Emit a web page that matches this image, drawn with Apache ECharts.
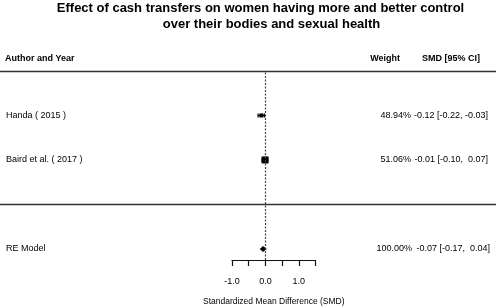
<!DOCTYPE html>
<html>
<head>
<meta charset="utf-8">
<script src="https://cdn.jsdelivr.net/npm/echarts@6/dist/echarts.min.js"></script>
<style>html,body{margin:0;padding:0;background:#fff}#c{width:500px;height:307px}</style>
</head>
<body>
<div id="c"></div>
<script>
// ---- data ----
const studies = ['Handa ( 2015 )', 'Baird et al. ( 2017 )'];
const weights = [48.94, 51.06];
const smd = [-0.12, -0.01];
const ciLow = [-0.22, -0.10];
const ciHigh = [-0.03, 0.07];
const pooledLabel = 'RE Model';
const pooledWeight = [100.00];
const pooledSmd = [-0.07];
const pooledLow = [-0.17];
const pooledHigh = [0.04];
const xTickValues = [-1.0, -0.5, 0.0, 0.5, 1.0, 1.5];
const xTickLabels = ['-1.0', '', '0.0', '', '1.0', ''];
const titleLines = ['Effect of cash transfers on women having more and better control', 'over their bodies and sexual health'];
const headers = ['Author and Year', 'Weight', 'SMD [95% CI]'];
const axisTitle = 'Standardized Mean Difference (SMD)';

// ---- layout / style ----
const FONT = "'Liberation Sans', Arial, sans-serif";
const studyRows = [4, 3];
const pooledRow = 1;
const ruleRows = [5, 2];
const headerRow = 5.27;
const markerPx = [4, 7];

function fmt(v) { const s = v.toFixed(2); return v >= 0 ? ' ' + s : s; }
function ciText(e, l, u) { return e.toFixed(2) + ' [' + l.toFixed(2) + ', ' + fmt(u) + ']'; }

// text items for the full-width grid: [x, y, text, align, bold]
const texts = [];
texts.push([5, headerRow, headers[0], 'left', true]);
texts.push([400, headerRow, headers[1], 'right', true]);
texts.push([480, headerRow, headers[2], 'right', true]);
studies.forEach((s, i) => {
  texts.push([6, studyRows[i], s, 'left', false]);
  texts.push([411, studyRows[i], weights[i].toFixed(2) + '%', 'right', false]);
  texts.push([488, studyRows[i], ciText(smd[i], ciLow[i], ciHigh[i]), 'right', false]);
});
texts.push([6, pooledRow, pooledLabel, 'left', false]);
texts.push([412, pooledRow, pooledWeight[0].toFixed(2) + '%', 'right', false]);
texts.push([490, pooledRow, ciText(pooledSmd[0], pooledLow[0], pooledHigh[0]), 'right', false]);

const chart = echarts.init(document.getElementById('c'));
chart.setOption({
  animation: false,
  backgroundColor: '#fff',
  title: [
    { text: titleLines[0], left: 255.5, top: -3, textAlign: 'center',
      textStyle: { fontFamily: FONT, fontSize: 13, fontWeight: 'bold', color: '#000' } },
    { text: titleLines[1], left: 266.5, top: 13, textAlign: 'center',
      textStyle: { fontFamily: FONT, fontSize: 13, fontWeight: 'bold', color: '#000' } }
  ],
  grid: [
    { left: 232, right: 184.5, top: 71, bottom: 47, containLabel: false, outerBoundsMode: 'none' },
    { left: 0, right: 0, top: 71, bottom: 47, containLabel: false, outerBoundsMode: 'none' }
  ],
  xAxis: [
    { gridIndex: 0, type: 'value', min: xTickValues[0], max: xTickValues[xTickValues.length - 1], interval: 0.5,
      splitLine: { show: false },
      axisLine: { show: true, onZero: false, lineStyle: { color: '#111', width: 1.2 } },
      axisTick: { show: true, length: 6, lineStyle: { color: '#111', width: 1.2 } },
      axisLabel: { margin: 17, fontFamily: FONT, fontSize: 9, color: '#000',
        formatter: v => { const i = xTickValues.findIndex(t => Math.abs(t - v) < 1e-9); return i >= 0 ? xTickLabels[i] : ''; } },
      name: axisTitle, nameLocation: 'middle', nameGap: 37,
      nameTextStyle: { fontFamily: FONT, fontSize: 8.5, color: '#000' } },
    { gridIndex: 1, type: 'value', min: 0, max: 500, show: false }
  ],
  yAxis: [
    { gridIndex: 0, type: 'value', min: 0.75, max: 5, show: false },
    { gridIndex: 1, type: 'value', min: 0.75, max: 5, show: false }
  ],
  series: [
    // horizontal rules
    { type: 'custom', xAxisIndex: 1, yAxisIndex: 1, silent: true,
      data: ruleRows.map(r => [r]),
      renderItem: (params, api) => {
        const a = api.coord([0, api.value(0)]);
        const b = api.coord([496, api.value(0)]);
        return { type: 'line', shape: { x1: a[0], y1: Math.round(a[1]) + 0.5, x2: b[0], y2: Math.round(a[1]) + 0.5 },
          style: { stroke: '#333', lineWidth: 1.3 } };
      } },
    // text columns
    { type: 'custom', xAxisIndex: 1, yAxisIndex: 1, silent: true,
      data: texts.map(t => [t[0], t[1]]),
      renderItem: (params, api) => {
        const t = texts[params.dataIndex];
        const p = api.coord([api.value(0), api.value(1)]);
        return { type: 'text', x: p[0], y: p[1],
          style: { text: t[2], textAlign: t[3], textVerticalAlign: 'middle', fill: '#000',
            font: (t[4] ? 'bold ' : '') + '9px ' + FONT } };
      } },
    // confidence intervals
    { type: 'custom', xAxisIndex: 0, yAxisIndex: 0, silent: true,
      data: studies.map((s, i) => [ciLow[i], ciHigh[i], studyRows[i]]),
      renderItem: (params, api) => {
        const a = api.coord([api.value(0), api.value(2)]);
        const b = api.coord([api.value(1), api.value(2)]);
        const st = { stroke: '#000', lineWidth: 1.2 };
        return { type: 'group', children: [
          { type: 'line', shape: { x1: a[0], y1: a[1], x2: b[0], y2: b[1] }, style: st },
          { type: 'line', shape: { x1: a[0], y1: a[1] - 2, x2: a[0], y2: a[1] + 2 }, style: st },
          { type: 'line', shape: { x1: b[0], y1: b[1] - 2, x2: b[0], y2: b[1] + 2 }, style: st }
        ] };
      } },
    // point estimates
    { type: 'scatter', xAxisIndex: 0, yAxisIndex: 0, silent: true, symbol: 'rect',
      data: studies.map((s, i) => ({ value: [smd[i], studyRows[i]], symbolSize: markerPx[i] })),
      itemStyle: { color: '#000', opacity: 1 },
      markLine: { silent: true, symbol: 'none', label: { show: false },
        lineStyle: { color: '#444', type: [2, 1.5], width: 1.2 },
        data: [{ xAxis: 0 }] } },
    // pooled diamond
    { type: 'custom', xAxisIndex: 0, yAxisIndex: 0, silent: true,
      data: [[pooledLow[0], pooledSmd[0], pooledHigh[0], pooledRow]],
      renderItem: (params, api) => {
        const y = api.value(3);
        const l = api.coord([api.value(0), y]);
        const m = api.coord([api.value(1), y]);
        const r = api.coord([api.value(2), y]);
        return { type: 'polygon', shape: { points: [[l[0], l[1]], [m[0], m[1] - 3], [r[0], r[1]], [m[0], m[1] + 3]] },
          style: { fill: '#000' } };
      } }
  ]
});
</script>
</body>
</html>
